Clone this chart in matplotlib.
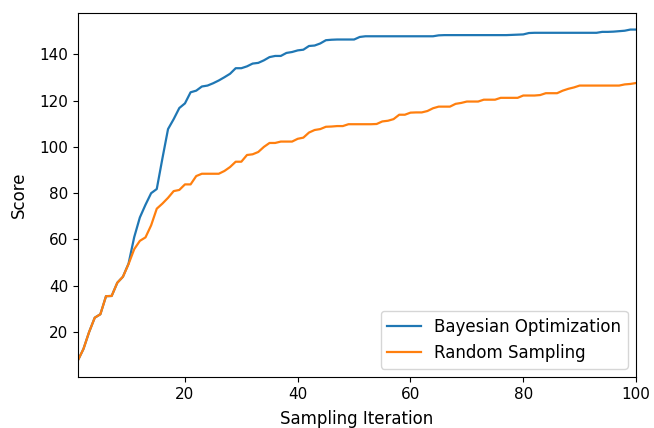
import matplotlib
matplotlib.use('Agg')
import matplotlib.pyplot as plt

iterations = list(range(1, 101))

bayesian = [7.7, 12.7, 20, 26.2, 27.7, 35.5, 35.6, 41.3, 43.9, 49.6,
            61, 69.5, 75, 80, 81.8, 95, 107.7, 112, 116.8, 118.8,
            123.6, 124.3, 126.1, 126.5, 127.5, 128.7, 130.1, 131.6, 134, 134,
            134.8, 136, 136.3, 137.4, 138.8, 139.3, 139.3, 140.6, 141, 141.7,
            142, 143.6, 143.8, 144.7, 146.1, 146.3, 146.4, 146.4, 146.4, 146.4,
            147.5, 147.8, 147.8, 147.8, 147.8, 147.8, 147.8, 147.8, 147.8, 147.8,
            147.8, 147.8, 147.8, 147.8, 148.2, 148.3, 148.3, 148.3, 148.3, 148.3,
            148.3, 148.3, 148.3, 148.3, 148.3, 148.3, 148.3, 148.4, 148.5, 148.6,
            149.2, 149.3, 149.3, 149.3, 149.3, 149.3, 149.3, 149.3, 149.3, 149.3,
            149.3, 149.3, 149.3, 149.7, 149.7, 149.8, 150, 150.2, 150.7, 150.7]

random_s = [7.7, 12.7, 20, 26.2, 27.7, 35.5, 35.6, 41.3, 43.9, 49.4,
            55.8, 59.4, 60.9, 66.1, 73.3, 75.5, 78, 80.9, 81.4, 83.8,
            83.8, 87.4, 88.4, 88.4, 88.4, 88.4, 89.6, 91.3, 93.6, 93.6,
            96.5, 96.8, 97.8, 100, 101.7, 101.7, 102.3, 102.3, 102.3, 103.5,
            104, 106.2, 107.3, 107.7, 108.7, 108.8, 109, 109, 109.8, 109.8,
            109.8, 109.8, 109.8, 109.9, 111, 111.3, 112, 113.9, 113.9, 114.8,
            114.9, 114.9, 115.5, 116.7, 117.4, 117.4, 117.4, 118.6, 119, 119.6,
            119.6, 119.6, 120.4, 120.4, 120.4, 121.2, 121.2, 121.2, 121.2, 122.2,
            122.2, 122.2, 122.4, 123.2, 123.2, 123.2, 124.3, 125.1, 125.7, 126.5,
            126.5, 126.5, 126.5, 126.5, 126.5, 126.5, 126.5, 127, 127.2, 127.6]

fig = plt.figure(figsize=(6.54, 4.28), dpi=100)
ax = fig.add_axes([0.119, 0.119, 0.8535, 0.8506])

ax.plot(iterations, bayesian, color='#1f77b4', lw=1.6, label='Bayesian Optimization')
ax.plot(iterations, random_s, color='#ff7f0e', lw=1.6, label='Random Sampling')

ax.set_xlim(1, 100)
ax.set_xticks([20, 40, 60, 80, 100])
ax.set_yticks([20, 40, 60, 80, 100, 120, 140])
ax.tick_params(labelsize=11)
ax.set_xlabel('Sampling Iteration', fontsize=12, labelpad=6)
ax.set_ylabel('Score', fontsize=12, labelpad=8)
ax.legend(loc='lower right', fontsize=12)

fig.savefig('out.png', dpi=100)
